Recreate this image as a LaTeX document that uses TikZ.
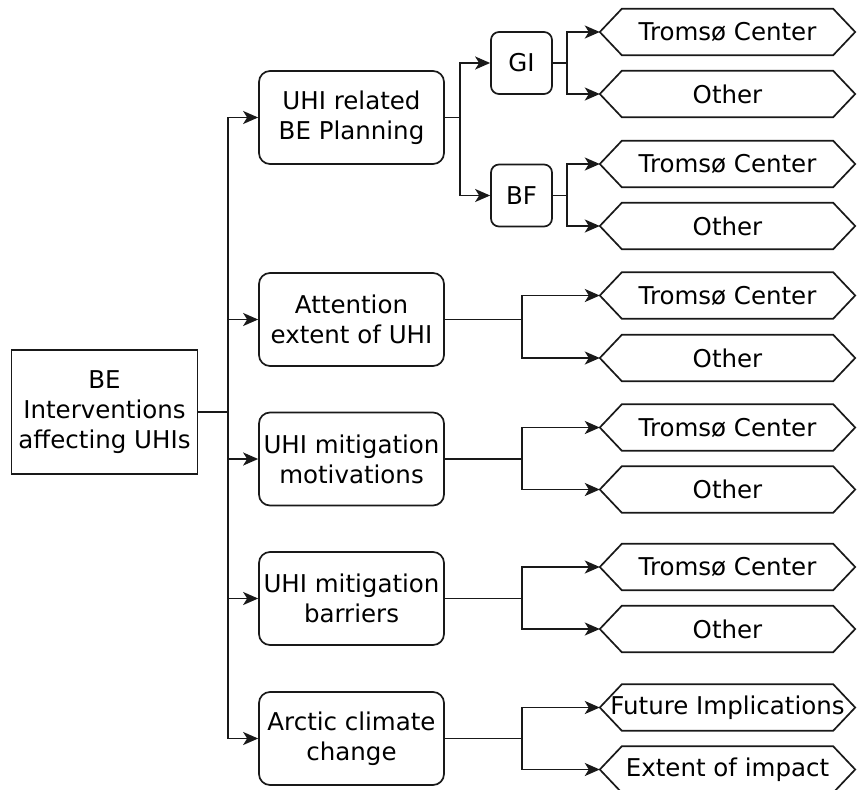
\documentclass[tikz,border=0pt]{standalone}
\usepackage{fontspec}
\setmainfont{DejaVu Sans}
\usetikzlibrary{arrows.meta}
\tikzset{
  base/.style={draw=black!90, line width=1.7pt, align=center, inner sep=0pt, text=black,
               font=\fontsize{24.5}{30}\selectfont},
  rootbox/.style={base, minimum width=186pt, minimum height=124pt},
  lonebox/.style={base, rounded corners=11pt, minimum width=185pt, minimum height=93pt},
  smallbox/.style={base, rounded corners=8pt, minimum width=61pt, minimum height=62pt},
  hexbox/.style={inner sep=0pt, minimum width=255pt, minimum height=46pt, align=center,
                 font=\fontsize{24.5}{30}\selectfont},
  hexline/.style={draw=black!90, line width=1.7pt},
  conn/.style={draw=black!90, line width=1.7pt},
  arr/.style={conn, -{Stealth[length=15pt,width=13pt,inset=4pt]}}
}
\newcommand{\hexnode}[3]{%
  \node[hexbox] (#1) at (727.5,#2) {#3};
  \draw[hexline] (#1.west) -- ([xshift=22pt]#1.north west) -- ([xshift=-22pt]#1.north east)
    -- (#1.east) -- ([xshift=-22pt]#1.south east) -- ([xshift=22pt]#1.south west) -- cycle;
}
\begin{document}
\begin{tikzpicture}[x=1pt,y=-1pt]
\useasboundingbox (0,0) rectangle (857,790);
% root
\node[rootbox] (root) at (104.5,412) {BE\\Interventions\\affecting UHIs};
% level 1
\node[lonebox] (b1) at (351.5,117.5) {UHI related\\BE Planning};
\node[lonebox] (b2) at (351.5,319.5) {Attention\\extent of UHI};
\node[lonebox] (b3) at (351.5,459) {UHI mitigation\\motivations};
\node[lonebox] (b4) at (351.5,598.5) {UHI mitigation\\barriers};
\node[lonebox] (b5) at (351.5,738.5) {Arctic climate\\change};
% level 2 small
\node[smallbox] (gi) at (521.5,63) {GI};
\node[smallbox] (bf) at (521.5,195.5) {BF};
% hexagons
\hexnode{h1}{32}{Tromsø Center}
\hexnode{h2}{94}{Other}
\hexnode{h3}{164}{Tromsø Center}
\hexnode{h4}{226}{Other}
\hexnode{h5}{295.5}{Tromsø Center}
\hexnode{h6}{358}{Other}
\hexnode{h7}{427.5}{Tromsø Center}
\hexnode{h8}{489.5}{Other}
\hexnode{h9}{567}{Tromsø Center}
\hexnode{h10}{629}{Other}
\hexnode{h11}{707.5}{Future Implications}
\hexnode{h12}{769.5}{Extent of impact}
% trunk
\coordinate (t) at (228,412);
\draw[conn] (root.east) -- (t);
\foreach \b in {b1,b2,b3,b4,b5} {\draw[arr] (t) |- (\b.west);}
% UHI planning branch
\coordinate (s1) at (460,117.5);
\draw[conn] (b1.east) -- (s1);
\draw[arr] (s1) |- (gi.west);
\draw[arr] (s1) |- (bf.west);
\coordinate (sg) at (567,63);
\draw[conn] (gi.east) -- (sg);
\draw[arr] (sg) |- (h1.west);
\draw[arr] (sg) |- (h2.west);
\coordinate (sb) at (567,195.5);
\draw[conn] (bf.east) -- (sb);
\draw[arr] (sb) |- (h3.west);
\draw[arr] (sb) |- (h4.west);
% other branches
\coordinate (s2) at (522,319.5);
\draw[conn] (b2.east) -- (s2);
\draw[arr] (s2) |- (h5.west);
\draw[arr] (s2) |- (h6.west);
\coordinate (s3) at (522,459);
\draw[conn] (b3.east) -- (s3);
\draw[arr] (s3) |- (h7.west);
\draw[arr] (s3) |- (h8.west);
\coordinate (s4) at (522,598.5);
\draw[conn] (b4.east) -- (s4);
\draw[arr] (s4) |- (h9.west);
\draw[arr] (s4) |- (h10.west);
\coordinate (s5) at (522,738.5);
\draw[conn] (b5.east) -- (s5);
\draw[arr] (s5) |- (h11.west);
\draw[arr] (s5) |- (h12.west);
\end{tikzpicture}
\end{document}
